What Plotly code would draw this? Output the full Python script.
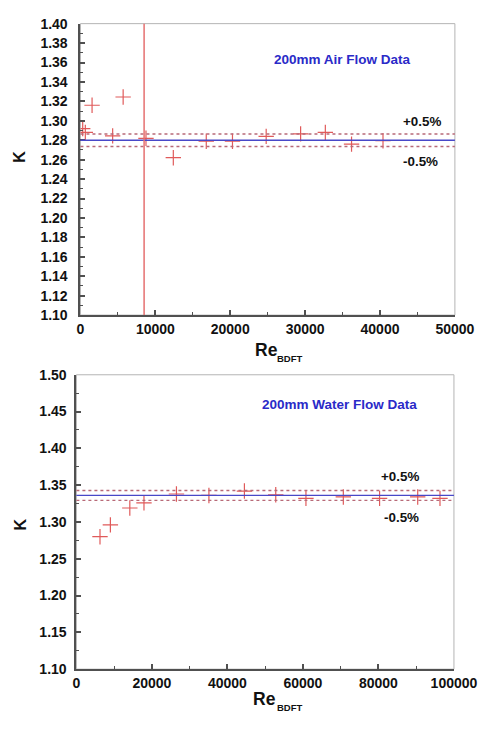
import plotly.graph_objects as go

# Air flow calibration points (200 mm meter)
re_air = [300, 650, 1550, 4300, 5700, 8750, 12400, 16800, 20300, 24800, 29400, 32700, 36200, 40400]
k_air = [1.292, 1.288, 1.316, 1.2845, 1.3245, 1.282, 1.262, 1.279, 1.279, 1.284, 1.2865, 1.288, 1.276, 1.2795]
air_mean = 1.280
air_cutoff_re = 8500

# Water flow calibration points (200 mm meter)
re_water = [6250, 9000, 14150, 17900, 26500, 35100, 44500, 52800, 60800, 70700, 80300, 90400, 96300]
k_water = [1.280, 1.296, 1.319, 1.326, 1.338, 1.336, 1.342, 1.337, 1.332, 1.334, 1.332, 1.334, 1.332]
water_mean = 1.336

band_pct = 0.5

W, H = 499, 729
FONT = "Liberation Sans"
RED = "#e05a5a"
BLUE = "#4848c8"
DOT = "#b86a78"
AXIS = "#505050"


def px(x):
    return x / W


def py(y):
    return 1 - y / H


fig = go.Figure()

fig.add_trace(go.Scatter(
    x=re_air, y=k_air, mode="markers", xaxis="x", yaxis="y",
    marker=dict(symbol="cross-thin", size=11, line=dict(color=RED, width=1.2)),
    showlegend=False, hoverinfo="x+y"))
fig.add_trace(go.Scatter(
    x=re_water, y=k_water, mode="markers", xaxis="x2", yaxis="y2",
    marker=dict(symbol="cross-thin", size=11, line=dict(color=RED, width=1.2)),
    showlegend=False, hoverinfo="x+y"))

shapes = []
for xa, ya, mean in (("x", "y", air_mean), ("x2", "y2", water_mean)):
    # frame
    shapes.append(dict(type="rect", xref=f"{xa} domain", yref=f"{ya} domain",
                       x0=0, x1=1, y0=0, y1=1, line=dict(color="#b4b4b4", width=1),
                       layer="below"))
    # mean and +/- band
    for f, col, dash, wd in ((1.0, BLUE, "solid", 1.3),
                             (1 + band_pct / 100, DOT, "dot", 1.4),
                             (1 - band_pct / 100, DOT, "dot", 1.4)):
        shapes.append(dict(type="line", xref=f"{xa} domain", yref=ya,
                           x0=0, x1=1, y0=mean * f, y1=mean * f,
                           line=dict(color=col, width=wd, dash=dash)))

shapes.append(dict(type="line", xref="x", yref="y domain", x0=air_cutoff_re, x1=air_cutoff_re,
                   y0=0, y1=1, line=dict(color="#e57070", width=1.5)))

tickfont = dict(family=FONT, size=14, color="#111", weight="bold")


def xaxis(domain, anchor, rng, dtick):
    return dict(domain=domain, anchor=anchor, range=rng, dtick=dtick, tick0=0,
                tickformat="d", ticks="inside", ticklen=5, tickwidth=1.5, tickcolor=AXIS,
                showline=True, linecolor=AXIS, linewidth=2, mirror=False,
                showgrid=False, zeroline=False, tickfont=tickfont,
                minor=dict(ticks="inside", ticklen=3, tickwidth=1.2, tickcolor=AXIS,
                           dtick=dtick / 2, showgrid=False))


def yaxis(domain, anchor, rng, dtick, standoff):
    return dict(domain=domain, anchor=anchor, range=rng, dtick=dtick, tick0=1.10,
                tickformat=".2f", ticks="inside", ticklen=5, tickwidth=1.5, tickcolor=AXIS,
                showline=True, linecolor=AXIS, linewidth=2, mirror=False,
                showgrid=False, zeroline=False, tickfont=tickfont,
                ticklabelstandoff=standoff,
                minor=dict(ticks="inside", ticklen=3, tickwidth=1.2, tickcolor=AXIS,
                           dtick=dtick / 2, showgrid=False))


annotations = []


def label(text, x, y, size, color="#111", angle=0):
    annotations.append(dict(text=text, x=px(x), y=py(y), xref="paper", yref="paper",
                            showarrow=False, textangle=angle, xanchor="center", yanchor="middle",
                            font=dict(family=FONT, size=size, color=color, weight="bold")))


# top panel texts
label("K", 17, 152, 16, angle=-90)
label("Re", 278, 350, 17.5)
label("BDFT", 303, 358, 9.5)
label("200mm Air Flow Data", 358.5, 53, 13.5, color="#2a2ac8")
label("+0.5%", 442.5, 116, 13.4)
label("-0.5%", 441.5, 157, 13.4)

# bottom panel texts
label("K", 17, 528, 16, angle=-90)
label("Re", 276, 706, 17.5)
label("BDFT", 303, 715, 9.5)
label("200mm Water Flow Data", 355.3, 405, 13.5, color="#2a2ac8")
label("+0.5%", 420, 479.5, 13.4)
label("-0.5%", 421, 521, 13.4)

fig.update_layout(
    width=W, height=H, margin=dict(l=0, r=0, t=0, b=0),
    paper_bgcolor="white", plot_bgcolor="white",
    xaxis=xaxis([px(81), px(477.7)], "y", [0, 50000], 10000),
    yaxis=yaxis([py(314), py(16)], "x", [1.10, 1.40], 0.02, 8),
    xaxis2=xaxis([px(76.7), px(476.7)], "y2", [0, 100000], 20000),
    yaxis2=yaxis([py(676), py(375)], "x2", [1.10, 1.50], 0.05, 5),
    shapes=shapes, annotations=annotations, showlegend=False,
)

fig.write_html("out.html")
